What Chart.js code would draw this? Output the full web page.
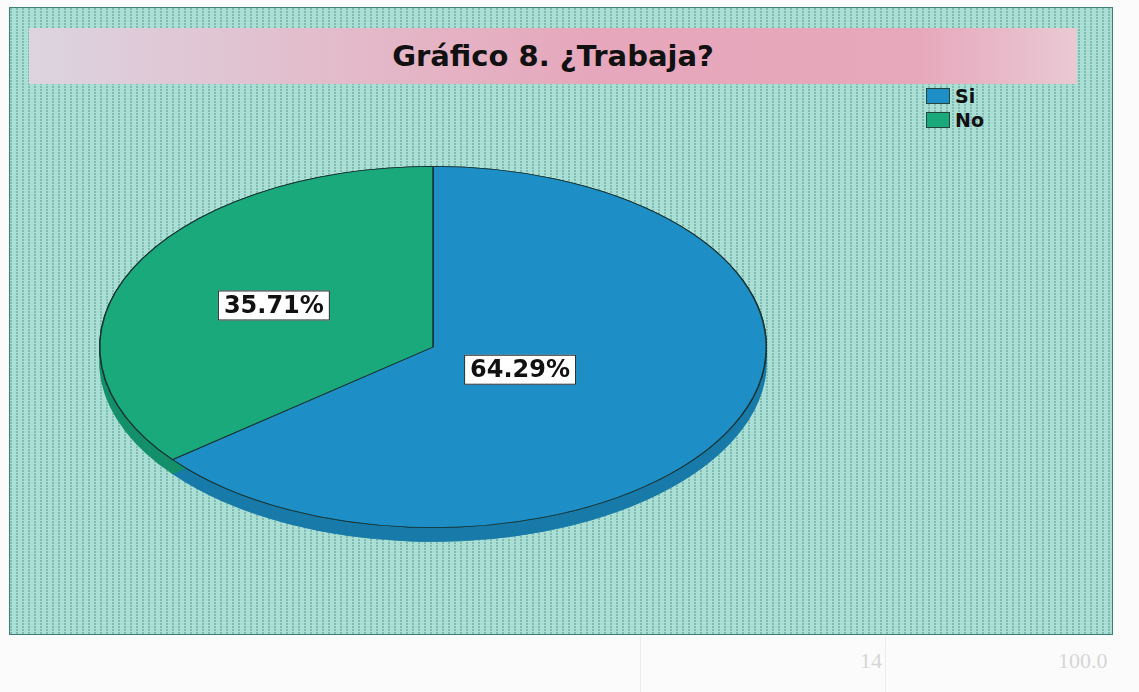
<!DOCTYPE html>
<html>
<head>
<meta charset="utf-8">
<script src="https://cdn.jsdelivr.net/npm/chart.js@4/dist/chart.umd.min.js"></script>
<style>
    body { margin: 0; width: 1139px; height: 692px; background: #fbfbfb; position: relative; overflow: hidden; font-family: 'DejaVu Sans', sans-serif; }
    #frame {
        position: absolute; left: 9px; top: 7px; width: 1102px; height: 626px;
        border: 1px solid #3f7f76;
        background-color: #aadfd6;
        background-image: radial-gradient(circle at 1px 1px, rgba(45, 110, 100, 0.45) 0.6px, transparent 1px);
        background-size: 6px 3px;
    }
    #title {
        position: absolute; left: 29px; top: 28px; width: 1048px; height: 56px;
        background: linear-gradient(to right, #dcd4e0 0%, #e3bccb 28%, #e6a6bb 55%, #e7a8bc 85%, #e9c9d4 100%);
        font-weight: bold; font-size: 29px; line-height: 56px; text-align: center; color: #111;
    }
    #legend { position: absolute; left: 926px; top: 88px; }
    .item { height: 24px; display: flex; align-items: flex-start; font-weight: bold; font-size: 19px; line-height: 17px; color: #111; }
    .sw { width: 24px; height: 16px; border: 1px solid #24463f; margin-right: 5px; box-sizing: border-box; }
    .faint { position: absolute; color: #d6d6d6; font-family: 'Liberation Serif', serif; font-size: 22px; }
    .vline { position: absolute; top: 636px; width: 1px; height: 56px; background: #ececec; }
    canvas { position: absolute; left: 0; top: 0; }
</style>
</head>
<body>
<div id="frame"></div>
<div id="title">Gráfico 8. ¿Trabaja?</div>
<div id="legend"></div>
<div class="vline" style="left:640px"></div>
<div class="vline" style="left:885px"></div>
<div class="faint" style="left:860px; top:648px;">14</div>
<div class="faint" style="left:1058px; top:648px;">100.0</div>
<canvas id="pie-chart" width="1139" height="692"></canvas>
<script>
    const categories = ['Si', 'No'];
    const counts = [9, 5];
    const sliceColors = ['#1e8fc6', '#1aa97a'];
    const sideColors = ['#177aa8', '#13906a'];

    const total = counts.reduce((a, b) => a + b, 0);
    const percentLabels = counts.map(c => (c / total * 100).toFixed(2) + '%');

    // legend
    const legendBox = document.getElementById('legend');
    categories.forEach((name, i) => {
        const item = document.createElement('div');
        item.className = 'item';
        item.innerHTML = '<span class="sw" style="background:' + sliceColors[i] + '"></span>' + name;
        legendBox.appendChild(item);
    });

    const squash = 181 / 334;
    const depth = 14;
    const labelRadius = [0.29, 0.53];

    const tiltedPie = {
        id: 'tiltedPie',
        beforeDatasetsDraw(chart) {
            const ctx = chart.ctx;
            const arcs = chart.getDatasetMeta(0).data;
            const cx = arcs[0].x;
            const cy = arcs[0].y;

            ctx.save();
            ctx.translate(cx, cy);
            ctx.scale(1, squash);
            ctx.translate(-cx, -cy);

            // side of the disc, as a hard shadow below each slice
            arcs.forEach((arc, i) => {
                ctx.save();
                ctx.shadowColor = sideColors[i];
                ctx.shadowOffsetY = depth;
                ctx.shadowBlur = 0;
                arc.draw(ctx);
                ctx.restore();
            });
            // top face
            arcs.forEach(arc => arc.draw(ctx));
            ctx.restore();

            // percentage labels
            ctx.save();
            ctx.font = 'bold 24px "DejaVu Sans"';
            ctx.textAlign = 'center';
            ctx.textBaseline = 'middle';
            arcs.forEach((arc, i) => {
                const mid = (arc.startAngle + arc.endAngle) / 2;
                const r = arc.outerRadius * labelRadius[i];
                const x = cx + Math.cos(mid) * r;
                const y = cy + Math.sin(mid) * r * squash;
                const w = ctx.measureText(percentLabels[i]).width + 12;
                const h = 30;
                ctx.fillStyle = '#ffffff';
                ctx.fillRect(x - w / 2, y - h / 2, w, h);
                ctx.strokeStyle = '#1d2b2b';
                ctx.lineWidth = 1;
                ctx.strokeRect(x - w / 2 + 0.5, y - h / 2 + 0.5, w - 1, h - 1);
                ctx.fillStyle = '#111111';
                ctx.fillText(percentLabels[i], x, y + 1);
            });
            ctx.restore();
            return false;
        }
    };

    new Chart('pie-chart', {
        type: 'pie',
        data: {
            labels: categories,
            datasets: [{
                data: counts,
                backgroundColor: sliceColors,
                borderColor: '#163434',
                borderWidth: 1.5
            }]
        },
        options: {
            responsive: false,
            animation: false,
            layout: {
                padding: {left: 99, top: 13, right: 372, bottom: 11}
            },
            plugins: {
                legend: {display: false},
                title: {display: false},
                tooltip: {enabled: false}
            }
        },
        plugins: [tiltedPie]
    });
</script>
</body>
</html>
